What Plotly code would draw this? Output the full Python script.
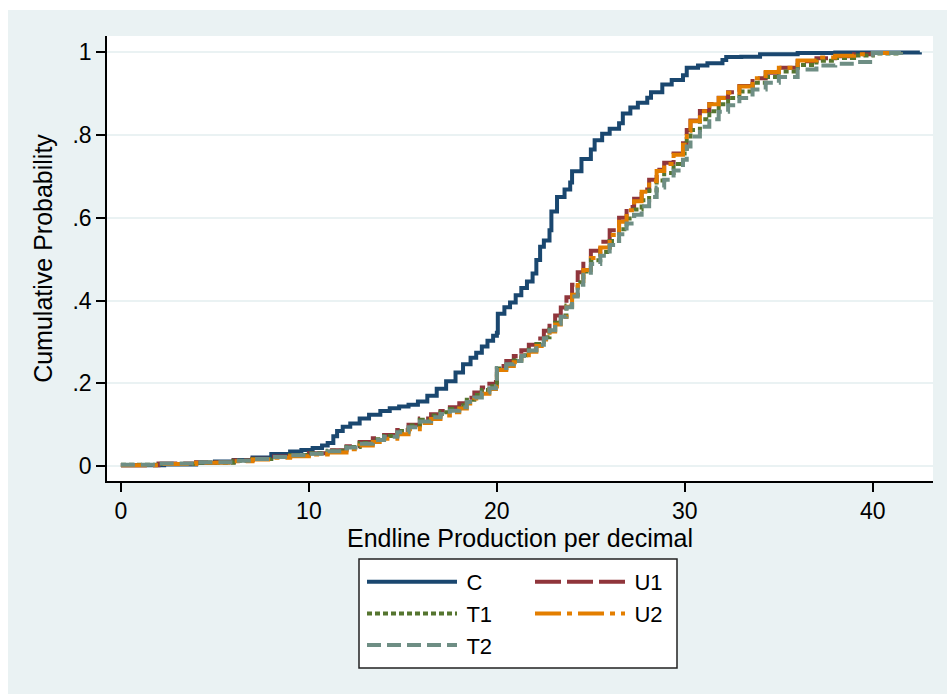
import plotly.graph_objects as go

# Empirical CDFs of endline production per decimal, by study arm
x_c = [0.0, 2.3, 4.0, 5.0, 6.0, 7.0, 8.0, 9.0, 9.6, 10.2, 10.7, 11.0, 11.3, 11.5, 11.8,
       12.2, 12.7, 13.2, 13.8, 14.3, 14.8, 15.3, 15.8, 16.3, 16.8, 17.3, 17.8, 18.2,
       18.6, 18.9, 19.2, 19.5, 19.8, 20.0, 20.05, 20.4, 20.7, 21.0, 21.3, 21.6, 21.9,
       22.1, 22.3, 22.5, 22.8, 22.9, 23.2, 23.6, 23.9, 24.0, 24.5, 25.0, 25.2, 25.6,
       26.0, 26.5, 26.7, 27.1, 27.5, 28.0, 28.2, 28.8, 29.3, 29.9, 30.1, 30.7, 31.2,
       32.0, 32.2, 33.0, 34.0, 36.0, 38.0, 42.5]
cdf_c = [0.002, 0.004, 0.008, 0.011, 0.015, 0.021, 0.029, 0.035, 0.039, 0.044, 0.050,
         0.056, 0.072, 0.085, 0.095, 0.103, 0.115, 0.124, 0.133, 0.140, 0.144, 0.148,
         0.156, 0.170, 0.187, 0.205, 0.226, 0.246, 0.262, 0.274, 0.289, 0.303, 0.315,
         0.322, 0.368, 0.384, 0.395, 0.413, 0.430, 0.446, 0.465, 0.498, 0.530, 0.545,
         0.570, 0.615, 0.650, 0.668, 0.685, 0.712, 0.742, 0.765, 0.787, 0.803, 0.815,
         0.828, 0.852, 0.866, 0.878, 0.890, 0.903, 0.922, 0.933, 0.944, 0.962, 0.968,
         0.973, 0.981, 0.988, 0.989, 0.995, 0.998, 0.999, 1.0]

x_arms = [0, 2, 4, 6, 7, 8, 9, 10, 11, 12, 12.7, 13.4, 14, 14.7, 15.3, 15.9, 16.5, 17,
          17.5, 18, 18.4, 18.8, 19.2, 19.6, 19.95, 20.0, 20.5, 20.9, 21.3, 21.7, 22.1,
          22.5, 22.8, 23.1, 23.4, 23.7, 24.0, 24.3, 24.6, 25.0, 25.5, 26.0, 26.5, 26.9,
          27.3, 27.7, 28.1, 28.5, 28.9, 29.4, 29.9, 30.1, 30.3, 30.8, 31.3, 31.8, 32.3,
          32.9, 33.6, 34.3, 35.0, 36.0, 37.0, 38.0, 39.0, 40.0, 41.5]

cdf_u1 = [0.002, 0.006, 0.009, 0.014, 0.018, 0.023, 0.027, 0.031, 0.038, 0.048,
          0.058, 0.067, 0.075, 0.087, 0.100, 0.115, 0.125, 0.133, 0.142, 0.152,
          0.165, 0.178, 0.190, 0.199, 0.203, 0.242, 0.254, 0.266, 0.280, 0.293,
          0.308, 0.327, 0.348, 0.364, 0.383, 0.408, 0.438, 0.468, 0.494, 0.520,
          0.542, 0.570, 0.600, 0.626, 0.646, 0.668, 0.692, 0.716, 0.733, 0.755,
          0.780, 0.812, 0.835, 0.858, 0.875, 0.890, 0.903, 0.918, 0.937, 0.950,
          0.962, 0.978, 0.985, 0.990, 0.995, 0.998, 1.0]
cdf_t1 = [0.003, 0.005, 0.008, 0.013, 0.017, 0.022, 0.027, 0.031, 0.037, 0.046,
          0.056, 0.065, 0.073, 0.085, 0.098, 0.112, 0.122, 0.130, 0.138, 0.147,
          0.160, 0.172, 0.184, 0.193, 0.198, 0.236, 0.246, 0.255, 0.268, 0.281,
          0.295, 0.311, 0.330, 0.346, 0.364, 0.388, 0.414, 0.444, 0.470, 0.497,
          0.517, 0.544, 0.572, 0.598, 0.620, 0.642, 0.666, 0.690, 0.708, 0.730,
          0.755, 0.790, 0.812, 0.838, 0.857, 0.874, 0.889, 0.905, 0.926, 0.940,
          0.953, 0.969, 0.979, 0.986, 0.992, 0.997, 1.0]
cdf_u2 = [0.002, 0.005, 0.008, 0.012, 0.016, 0.020, 0.024, 0.028, 0.033, 0.041,
          0.050, 0.058, 0.066, 0.077, 0.089, 0.104, 0.114, 0.122, 0.130, 0.139,
          0.151, 0.163, 0.175, 0.186, 0.192, 0.232, 0.242, 0.251, 0.263, 0.276,
          0.290, 0.306, 0.325, 0.342, 0.360, 0.385, 0.414, 0.447, 0.474, 0.503,
          0.528, 0.558, 0.590, 0.618, 0.640, 0.663, 0.688, 0.713, 0.730, 0.752,
          0.776, 0.810, 0.833, 0.857, 0.874, 0.889, 0.902, 0.917, 0.937, 0.952,
          0.962, 0.980, 0.987, 0.991, 0.995, 0.998, 1.0]
cdf_t2 = [0.003, 0.006, 0.009, 0.013, 0.017, 0.022, 0.026, 0.030, 0.036, 0.045,
          0.054, 0.063, 0.071, 0.082, 0.094, 0.108, 0.118, 0.126, 0.134, 0.142,
          0.155, 0.166, 0.178, 0.188, 0.193, 0.237, 0.246, 0.254, 0.266, 0.279,
          0.293, 0.309, 0.328, 0.344, 0.361, 0.384, 0.410, 0.438, 0.462, 0.488,
          0.508, 0.534, 0.560, 0.586, 0.607, 0.628, 0.650, 0.673, 0.692, 0.714,
          0.740, 0.772, 0.796, 0.820, 0.838, 0.856, 0.872, 0.889, 0.910, 0.926,
          0.940, 0.958, 0.968, 0.972, 0.976, 0.998, 1.0]

y_tickvals = [0, 0.2, 0.4, 0.6, 0.8, 1.0]
y_ticktext = ["0", ".2", ".4", ".6", ".8", "1"]
x_tickvals = [0, 10, 20, 30, 40]

FONT = "Liberation Sans, Arial, sans-serif"
BG = "#EAF2F3"

series = [
    ("C", x_c, cdf_c, "#1A476F", "solid", "legend"),
    ("U1", x_arms, cdf_u1, "#90353B", "26px,6px", "legend2"),
    ("T1", x_arms, cdf_t1, "#55752F", "5px,3px", "legend"),
    ("U2", x_arms, cdf_u2, "#E37E00", "26px,6px,5px,6px", "legend2"),
    ("T2", x_arms, cdf_t2, "#6E8E84", "14px,6px", "legend"),
]

fig = go.Figure()
for name, xs, ys, color, dash, leg in series:
    fig.add_trace(go.Scatter(
        x=xs, y=ys, name="\u2009" + name, mode="lines", line_shape="hv",
        line=dict(color=color, width=4, dash=dash), legend=leg,
    ))

W, H = 947, 694
ML, MR, MT, MB = 107, 14, 36, 213
pw, ph = W - ML - MR, H - MT - MB

def px_x(p):
    return (p - ML) / pw

def px_y(p):
    return (H - MB - p) / ph

legend_common = dict(
    bgcolor="rgba(0,0,0,0)", borderwidth=0, orientation="v",
    xanchor="left", yanchor="top", itemwidth=90, tracegroupgap=0,
    font=dict(family=FONT, size=22, color="#000"),
)

fig.update_layout(
    width=W, height=H,
    margin=dict(l=ML, r=MR, t=MT, b=MB, autoexpand=False),
    paper_bgcolor=BG, plot_bgcolor="white",
    font=dict(family=FONT, size=22, color="#000"),
    showlegend=True,
    legend=dict(x=px_x(362), y=px_y(561), **legend_common),
    legend2=dict(x=px_x(530), y=px_y(561), **legend_common),
    xaxis=dict(
        range=[-0.74, 43.2], tickvals=x_tickvals, showgrid=False, zeroline=False,
        showline=True, linecolor="#000", linewidth=1.5, ticks="outside",
        ticklen=9, tickwidth=1.5, tickcolor="#000",
        tickfont=dict(family=FONT, size=23, color="#000"),
        title=dict(text="Endline Production per decimal", standoff=0,
                   font=dict(family=FONT, size=25, color="#000")),
    ),
    yaxis=dict(
        range=[-0.036, 1.039], tickvals=y_tickvals, ticktext=y_ticktext,
        showgrid=True, gridcolor=BG, gridwidth=2, zeroline=False,
        showline=True, linecolor="#000", linewidth=1.5, ticks="outside",
        ticklen=9, tickwidth=1.5, tickcolor="#000",
        tickfont=dict(family=FONT, size=23, color="#000"),
        title=dict(text="Cumulative Probability", standoff=13,
                   font=dict(family=FONT, size=25, color="#000")),
    ),
    shapes=[
        # white strips along the top and left edges of the canvas
        dict(type="rect", xref="paper", yref="paper", x0=px_x(0), x1=px_x(W),
             y0=px_y(10), y1=px_y(0), fillcolor="white", line=dict(width=0), layer="below"),
        dict(type="rect", xref="paper", yref="paper", x0=px_x(0), x1=px_x(8),
             y0=px_y(H), y1=px_y(0), fillcolor="white", line=dict(width=0), layer="below"),
        # legend frame
        dict(type="rect", xref="paper", yref="paper", x0=px_x(359), x1=px_x(677),
             y0=px_y(668), y1=px_y(559), fillcolor="white",
             line=dict(color="#222", width=1.5), layer="below"),
    ],
)

fig.write_html("out.html")
